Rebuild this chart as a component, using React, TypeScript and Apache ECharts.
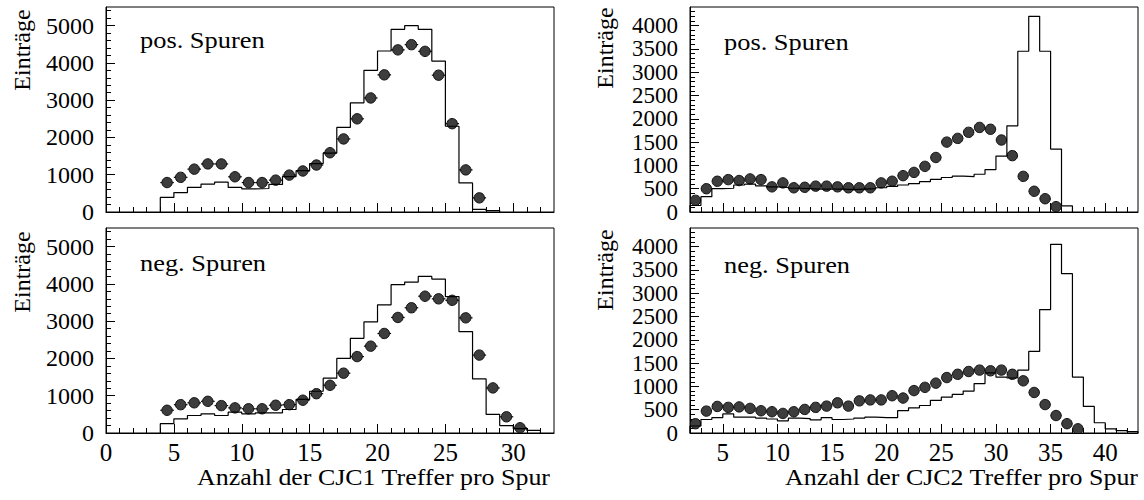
import React, { useEffect, useRef } from "react";
import * as echarts from "echarts";

// ---------- data ----------
// CJC1 (left panels): histogram bins of width 1 starting at the given edge
const CJC1_POS_HIST_START = 4;
const CJC1_POS_HIST = [390, 520, 660, 750, 800, 660, 620, 630, 740, 950, 1110, 1300, 1580, 2270, 2930, 3800, 4320, 4900, 5000, 4900, 4050, 2300, 780, 70, 35];
const CJC1_POS_PTS_START = 4.5;
const CJC1_POS_PTS = [790, 930, 1150, 1290, 1290, 945, 790, 790, 855, 990, 1100, 1260, 1590, 1960, 2500, 3060, 3680, 4350, 4490, 4310, 3670, 2370, 1130, 380];

const CJC1_NEG_HIST_START = 4;
const CJC1_NEG_HIST = [250, 380, 470, 515, 470, 560, 515, 540, 540, 630, 900, 1120, 1470, 2000, 2540, 2980, 3440, 3980, 4050, 4200, 4130, 3660, 2720, 1450, 500, 200, 115, 70];
const CJC1_NEG_PTS_START = 4.5;
const CJC1_NEG_PTS = [610, 760, 810, 850, 735, 675, 650, 650, 745, 760, 880, 1055, 1280, 1605, 2050, 2330, 2670, 3100, 3360, 3670, 3600, 3560, 3090, 2090, 1210, 435, 140];

// CJC2 (right panels)
const CJC2_POS_HIST_START = 2;
const CJC2_POS_HIST = [140, 330, 500, 510, 580, 600, 560, 540, 530, 510, 500, 490, 490, 490, 480, 490, 500, 520, 550, 580, 610, 650, 700, 740, 770, 760, 810, 910, 1200, 1850, 3450, 4200, 3450, 1350, 130];
const CJC2_POS_PTS_START = 2.5;
const CJC2_POS_PTS = [250, 500, 660, 695, 675, 710, 695, 540, 625, 520, 530, 555, 555, 540, 520, 520, 520, 625, 660, 780, 850, 980, 1170, 1500, 1580, 1710, 1815, 1775, 1545, 1210, 765, 445, 285, 115];

const CJC2_NEG_HIST_START = 2;
const CJC2_NEG_HIST = [150, 290, 330, 410, 340, 340, 320, 300, 260, 320, 310, 280, 330, 290, 300, 320, 340, 330, 330, 480, 540, 590, 700, 770, 830, 900, 1060, 1290, 1200, 1180, 1350, 1750, 2650, 4050, 3420, 1200, 570, 220, 90, 50, 30];
const CJC2_NEG_PTS_START = 2.5;
const CJC2_NEG_PTS = [200, 470, 570, 550, 560, 528, 477, 456, 420, 456, 506, 550, 577, 648, 577, 690, 710, 710, 800, 750, 910, 980, 1070, 1190, 1260, 1320, 1350, 1335, 1350, 1260, 1120, 870, 610, 375, 200, 90];

// tick labels
const CJC1_X_LABELS = [0, 5, 10, 15, 20, 25, 30];
const CJC2_X_LABELS = [5, 10, 15, 20, 25, 30, 35, 40];
const CJC1_Y_LABELS = [0, 1000, 2000, 3000, 4000, 5000];
const CJC2_Y_LABELS = [0, 500, 1000, 1500, 2000, 2500, 3000, 3500, 4000];

const Y_TITLE = "Einträge";
const X_TITLE_1 = "Anzahl der CJC1 Treffer pro Spur";
const X_TITLE_2 = "Anzahl der CJC2 Treffer pro Spur";
const LABEL_POS = "pos. Spuren";
const LABEL_NEG = "neg. Spuren";

// ---------- helpers ----------
const FONT = "Liberation Serif";

function stepData(start: number, vals: number[]) {
  const d: number[][] = [[start, 0]];
  vals.forEach((v, i) => d.push([start + i, v]));
  d.push([start + vals.length, 0]);
  return d;
}
function pointData(start: number, vals: number[]) {
  return vals.map((v, i) => [start + i, v]);
}
function range(a: number, b: number, step: number, skip: number) {
  const out: number[] = [];
  for (let v = a; v <= b + 1e-9; v += step) {
    if (Math.abs(v / skip - Math.round(v / skip)) > 1e-6) out.push(v);
  }
  return out;
}

function renderPoint(params: any, api: any) {
  const x = api.value(0);
  const y = api.value(1);
  const p = api.coord([x, y]);
  const l = api.coord([x - 0.5, y]);
  const r = api.coord([x + 0.5, y]);
  return {
    type: "group",
    children: [
      { type: "line", shape: { x1: l[0], y1: l[1], x2: r[0], y2: r[1] }, style: { stroke: "#000", lineWidth: 1.2 } },
      { type: "circle", shape: { cx: p[0], cy: p[1], r: 5.2 }, style: { fill: "#3d3d3d", stroke: "#111", lineWidth: 1 } },
    ],
  };
}

const plain = (v: number) => String(v);

export default function App() {
  const ref = useRef<HTMLDivElement>(null);

  useEffect(() => {
    if (!ref.current) return;
    const chart = echarts.init(ref.current, null, { renderer: "svg" });

    const panels = [
      { rect: { left: 106, top: 7, width: 448, height: 205 }, xMin: 0, xMax: 33, yMax: 5500, xLabels: CJC1_X_LABELS, yLabels: CJC1_Y_LABELS, xMinorStep: 1, yMinorStep: 200, showX: false, ySize: 24, hist: stepData(CJC1_POS_HIST_START, CJC1_POS_HIST), pts: pointData(CJC1_POS_PTS_START, CJC1_POS_PTS) },
      { rect: { left: 106, top: 228, width: 448, height: 205 }, xMin: 0, xMax: 33, yMax: 5500, xLabels: CJC1_X_LABELS, yLabels: CJC1_Y_LABELS, xMinorStep: 1, yMinorStep: 200, showX: true, ySize: 24, hist: stepData(CJC1_NEG_HIST_START, CJC1_NEG_HIST), pts: pointData(CJC1_NEG_PTS_START, CJC1_NEG_PTS) },
      { rect: { left: 690, top: 7, width: 448, height: 205 }, xMin: 2, xMax: 43, yMax: 4400, xLabels: CJC2_X_LABELS, yLabels: CJC2_Y_LABELS, xMinorStep: 1, yMinorStep: 100, showX: false, ySize: 23, hist: stepData(CJC2_POS_HIST_START, CJC2_POS_HIST), pts: pointData(CJC2_POS_PTS_START, CJC2_POS_PTS) },
      { rect: { left: 690, top: 228, width: 448, height: 205 }, xMin: 2, xMax: 43, yMax: 4400, xLabels: CJC2_X_LABELS, yLabels: CJC2_Y_LABELS, xMinorStep: 1, yMinorStep: 100, showX: true, ySize: 23, hist: stepData(CJC2_NEG_HIST_START, CJC2_NEG_HIST), pts: pointData(CJC2_NEG_PTS_START, CJC2_NEG_PTS) },
    ];

    const grid: any[] = [];
    const xAxis: any[] = [];
    const yAxis: any[] = [];
    const series: any[] = [];

    panels.forEach((p, i) => {
      const g = 2 * i;
      const yMajorStep = p.yLabels[1] - p.yLabels[0];
      grid.push({ ...p.rect, show: true, borderColor: "#000", borderWidth: 1, backgroundColor: "transparent" });
      grid.push({ ...p.rect, show: false });
      xAxis.push({
        gridIndex: g, type: "value", min: p.xMin, max: p.xMax,
        axisLine: { show: true, onZero: false, lineStyle: { color: "#000", width: 1 } },
        axisTick: { show: true, inside: true, length: 9, customValues: p.xLabels, lineStyle: { color: "#000", width: 1 } },
        axisLabel: { show: p.showX, customValues: p.xLabels, formatter: plain, margin: 7, fontFamily: FONT, fontSize: 25, color: "#000", showMinLabel: true, showMaxLabel: true, hideOverlap: false },
        splitLine: { show: false },
      });
      xAxis.push({
        gridIndex: g + 1, type: "value", min: p.xMin, max: p.xMax,
        axisLine: { show: false },
        axisTick: { show: true, inside: true, length: 5, customValues: range(p.xMin + p.xMinorStep, p.xMax - 0.5, p.xMinorStep, 5), lineStyle: { color: "#000", width: 1 } },
        axisLabel: { show: false },
        splitLine: { show: false },
      });
      yAxis.push({
        gridIndex: g, type: "value", min: 0, max: p.yMax,
        axisLine: { show: true, onZero: false, lineStyle: { color: "#000", width: 1 } },
        axisTick: { show: true, inside: true, length: 9, customValues: p.yLabels, lineStyle: { color: "#000", width: 1 } },
        axisLabel: { show: true, customValues: p.yLabels, formatter: plain, margin: 12, fontFamily: FONT, fontSize: p.ySize, lineHeight: 18, color: "#000", showMinLabel: true, showMaxLabel: true, hideOverlap: false },
        splitLine: { show: false },
      });
      yAxis.push({
        gridIndex: g + 1, type: "value", min: 0, max: p.yMax,
        axisLine: { show: false },
        axisTick: { show: true, inside: true, length: 5, customValues: range(p.yMinorStep, p.yMax - 1, p.yMinorStep, yMajorStep), lineStyle: { color: "#000", width: 1 } },
        axisLabel: { show: false },
        splitLine: { show: false },
      });
      series.push({
        type: "line", xAxisIndex: g, yAxisIndex: g, data: p.hist, step: "end", symbol: "none",
        lineStyle: { color: "#000", width: 1.2 }, clip: true, silent: true,
      });
      series.push({
        type: "custom", xAxisIndex: g, yAxisIndex: g, data: p.pts, renderItem: renderPoint, clip: true, silent: true,
      });
    });

    const txt = (text: string, x: number, y: number, extra: any = {}, style: any = {}) => ({
      type: "text", x, y, ...extra,
      style: { text, fontFamily: FONT, fontSize: 24, fill: "#000", align: "left", verticalAlign: "middle", ...style },
    });

    const graphic = [
      txt(Y_TITLE, 22, 50, { rotation: Math.PI / 2 }, { align: "center" }),
      txt(Y_TITLE, 22, 272, { rotation: Math.PI / 2 }, { align: "center" }),
      txt(Y_TITLE, 605, 48, { rotation: Math.PI / 2 }, { align: "center" }),
      txt(Y_TITLE, 605, 270, { rotation: Math.PI / 2 }, { align: "center" }),
      txt(LABEL_POS, 140, 40, { scaleX: 1.1 }),
      txt(LABEL_NEG, 140, 263, { scaleX: 1.1 }),
      txt(LABEL_POS, 724, 42, { scaleX: 1.1 }),
      txt(LABEL_NEG, 724, 265, { scaleX: 1.1 }),
      txt(X_TITLE_1, 550, 477, { scaleX: 1.08 }, { align: "right" }),
      txt(X_TITLE_2, 1138, 477, { scaleX: 1.08 }, { align: "right" }),
    ];

    chart.setOption({
      animation: false,
      backgroundColor: "#fff",
      textStyle: { fontFamily: FONT },
      grid, xAxis, yAxis, series, graphic,
    });

    return () => chart.dispose();
  }, []);

  return <div ref={ref} style={{ position: "fixed", left: 0, top: 0, width: 1144, height: 500 }} />;
}
